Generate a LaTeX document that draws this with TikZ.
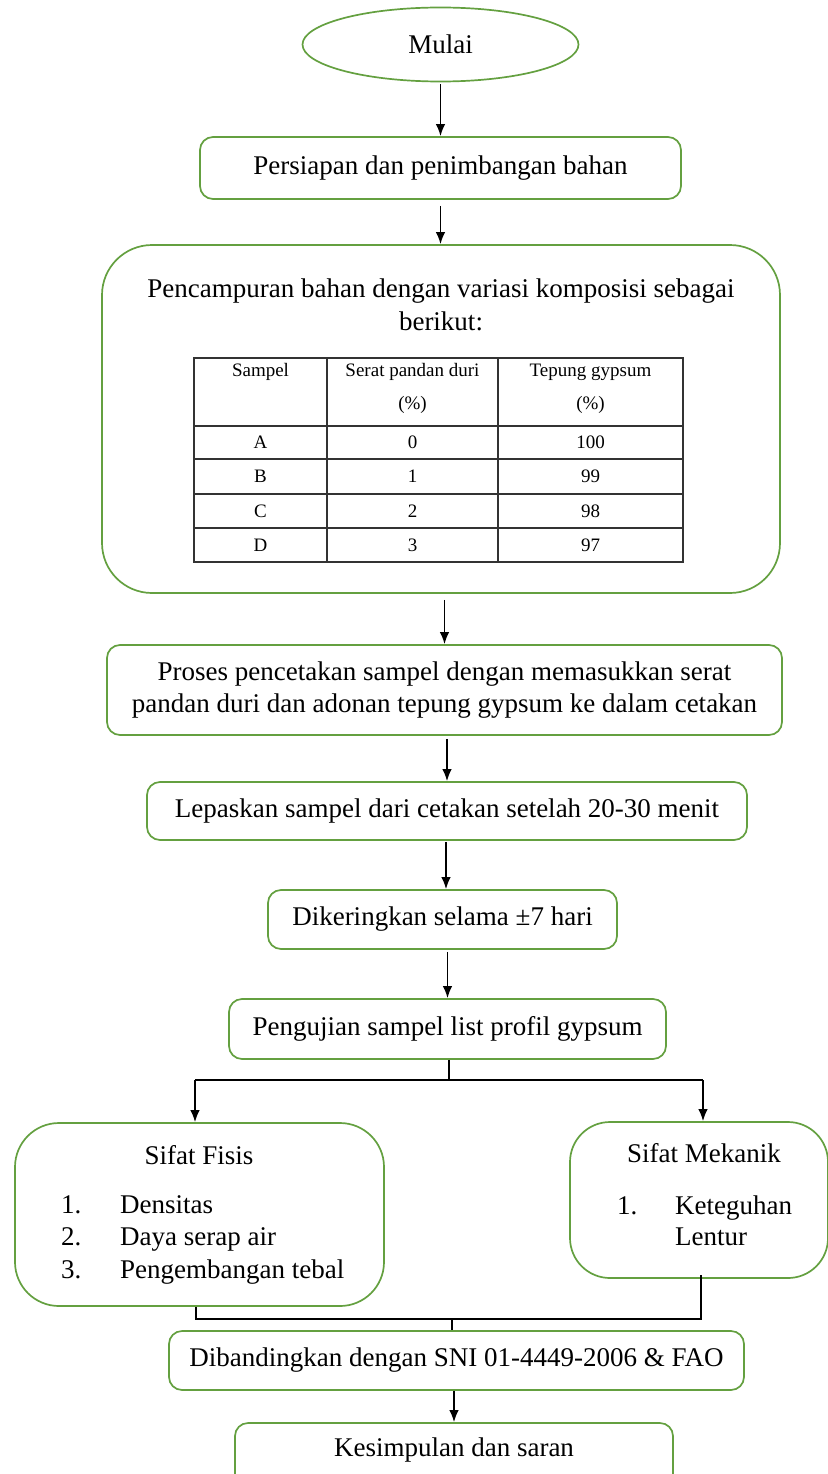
\documentclass[tikz,border=0pt]{standalone}
\usepackage{fontspec}
\setmainfont{Liberation Serif}
\usetikzlibrary{arrows.meta,shapes.geometric,calc}
\definecolor{boxgreen}{RGB}{100,160,64}
\begin{document}
\begin{tikzpicture}[x=1pt,y=-1pt,
  every node/.style={font=\fontsize{27}{32.5}\selectfont, inner sep=0pt},
  pbox/.style={draw=boxgreen, line width=1.7pt, rounded corners=13pt, align=center},
  bigbox/.style={pbox, rounded corners=50pt},
  sidebox/.style={pbox, rounded corners=44pt},
  arr/.style={line width=1.6pt, -{Latex[length=12pt,width=9.5pt]}},
  ln/.style={line width=1.6pt},
  tabtxt/.style={font=\fontsize{19}{22}\selectfont},
  tline/.style={line width=1.8pt, draw=black!80},
  item/.style={anchor=west, text height=18pt, text depth=6pt}]
\useasboundingbox (0,0) rectangle (827,1474);

% nodes
\node[ellipse, draw=boxgreen, line width=1.7pt, minimum width=276pt, minimum height=74pt] (start) at (440.5,44.5) {Mulai};
\node[pbox, minimum width=481pt, minimum height=62pt] (b1) at (440.5,168) {Persiapan dan penimbangan bahan};
\node[bigbox, minimum width=678pt, minimum height=348pt] (b2) at (441,419) {};
\node[align=center] (b2t) at (441,305) {Pencampuran bahan dengan variasi komposisi sebagai\\berikut:};

% table inside b2
\draw[tline] (194,358) rectangle (683,562);
\foreach \yy in {426,459,494,528} \draw[tline] (194,\yy) -- (683,\yy);
\foreach \xx in {327,498} \draw[tline] (\xx,358) -- (\xx,562);
\node[tabtxt] (h1) at (260.5,372) {Sampel};
\node[tabtxt] (h2) at (412.5,372) {Serat pandan duri};
\node[tabtxt] (h2b) at (412.5,405) {(\%)};
\node[tabtxt] (h3) at (590.5,372) {Tepung gypsum};
\node[tabtxt] (h3b) at (590.5,405) {(\%)};
\node[tabtxt] (ra1) at (260.5,442.5) {A};
\node[tabtxt] (ra2) at (412.5,442.5) {0};
\node[tabtxt] (ra3) at (590.5,442.5) {100};
\node[tabtxt] (rb1) at (260.5,476.5) {B};
\node[tabtxt] (rb2) at (412.5,476.5) {1};
\node[tabtxt] (rb3) at (590.5,476.5) {99};
\node[tabtxt] (rc1) at (260.5,511) {C};
\node[tabtxt] (rc2) at (412.5,511) {2};
\node[tabtxt] (rc3) at (590.5,511) {98};
\node[tabtxt] (rd1) at (260.5,545) {D};
\node[tabtxt] (rd2) at (412.5,545) {3};
\node[tabtxt] (rd3) at (590.5,545) {97};

\node[pbox, minimum width=675pt, minimum height=90pt] (b3) at (444.5,690) {Proses pencetakan sampel dengan memasukkan serat\\pandan duri dan adonan tepung gypsum ke dalam cetakan};
\node[pbox, minimum width=600pt, minimum height=58pt] (b4) at (447,811) {Lepaskan sampel dari cetakan setelah 20-30 menit};
\node[pbox, minimum width=349pt, minimum height=59pt] (b5) at (442.5,919.5) {Dikeringkan selama ±7 hari};
\node[pbox, minimum width=437pt, minimum height=60pt] (b6) at (447.5,1029) {Pengujian sampel list profil gypsum};

\node[sidebox, minimum width=369pt, minimum height=183pt] (fisis) at (199.5,1214.5) {};
\node (fisist) at (199,1155) {Sifat Fisis};
\node[item] (f1n) at (61,1207) {1.};
\node[item] (f1) at (120,1207) {Densitas};
\node[item] (f2n) at (61,1239) {2.};
\node[item] (f2) at (120,1239) {Daya serap air};
\node[item] (f3n) at (61,1272) {3.};
\node[item] (f3) at (120,1272) {Pengembangan tebal};

\node[sidebox, rounded corners=40pt, minimum width=258pt, minimum height=156pt] (mek) at (699,1200) {};
\node (mekt) at (704,1153) {Sifat Mekanik};
\node[item] (m1n) at (617,1208) {1.};
\node[item] (m1) at (675,1208) {Keteguhan};
\node[item] (m1b) at (675,1239) {Lentur};

\node[pbox, minimum width=575pt, minimum height=59pt] (b7) at (456.5,1360.5) {Dibandingkan dengan SNI 01-4449-2006 \& FAO};
\node[pbox, minimum width=438pt, minimum height=80pt] (b8) at (454,1463) {};
\node (b8t) at (454,1450) {Kesimpulan dan saran};

% connectors
\draw[arr, shorten <=2pt] (start) -- (b1);
\draw[arr, shorten <=6pt] (b1.south) -- (b1.south |- b2.north);
\draw[arr, shorten <=6pt] (b2.south -| b3.north) -- (b3.north);
\draw[arr, shorten <=3pt] (b3.south -| b4.north) -- (b4.north);
\draw[arr, shorten <=1pt] ([xshift=-1pt]b4.south) -- ([xshift=-1pt]b4.south |- b5.north);
\draw[arr, shorten <=2pt] (b5.south -| b6.north) -- (b6.north);

\coordinate (split) at (449,1080);
\coordinate (fl) at (195,1080);
\coordinate (mr) at (703,1080);
\draw[ln] (b6.south -| split) -- (split);
\draw[ln] (fl) -- (mr);
\draw[arr] (fl) -- (fl |- fisis.north);
\draw[arr] (mr) -- (mr |- mek.north);

\coordinate (jl) at (196,1319);
\coordinate (jr) at (701,1319);
\coordinate (jm) at (452,1319);
\draw[ln] (jl |- fisis.south) -- (jl) -- (jr) -- ([yshift=4pt]jr |- mek.south);
\draw[ln] (jm) -- (jm |- b7.north);
\draw[arr] (b7.south -| b8.north) -- (b8.north);
\end{tikzpicture}
\end{document}
